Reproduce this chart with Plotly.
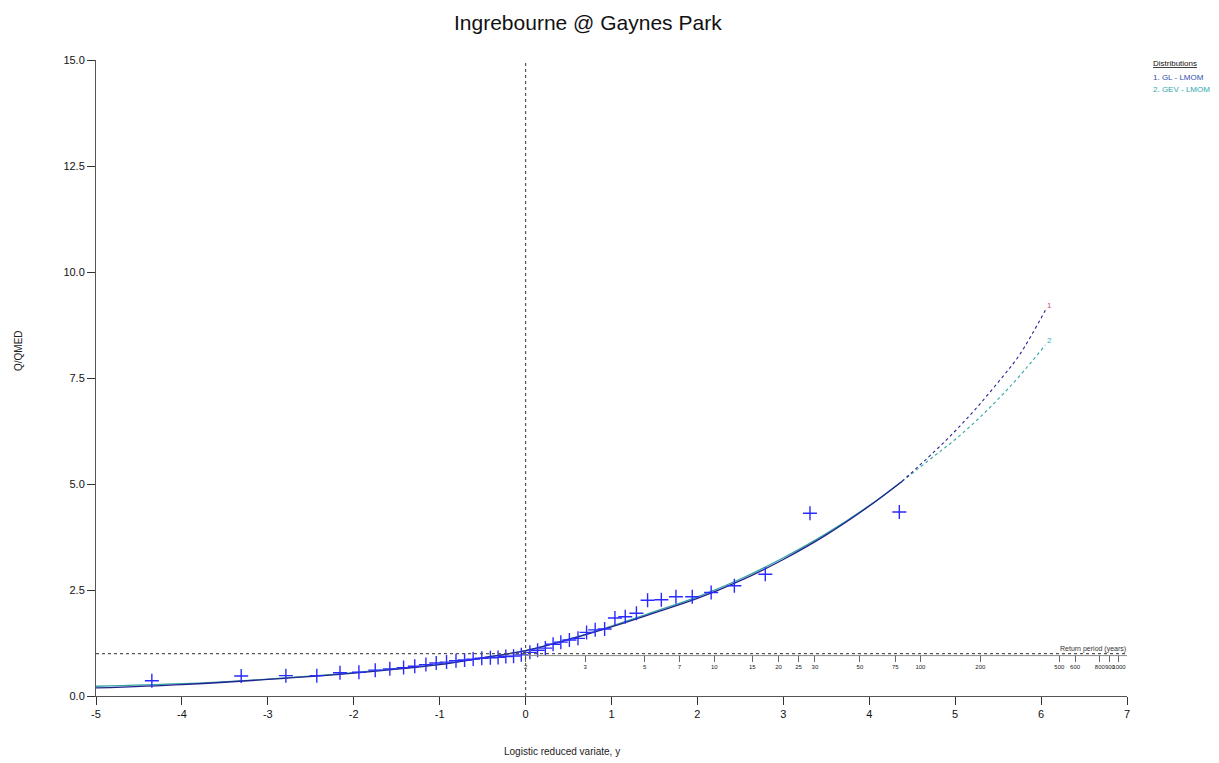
import numpy as np
import plotly.graph_objects as go

# ---------------- data ----------------
# observed annual maxima (logistic reduced variate, Q/QMED)
obs_y = [-4.35, -3.31, -2.79, -2.43, -2.16, -1.94, -1.75, -1.58, -1.42, -1.29, -1.16,
         -1.04, -0.92, -0.81, -0.71, -0.61, -0.51, -0.41, -0.32, -0.23, -0.14, -0.05,
         0.05, 0.14, 0.23, 0.32, 0.41, 0.51, 0.61, 0.71, 0.81, 0.92, 1.04, 1.16,
         1.29, 1.42, 1.58, 1.75, 1.94, 2.16, 2.43, 2.79, 3.31, 4.35]
obs_q = [0.36, 0.47, 0.48, 0.48, 0.55, 0.56, 0.61, 0.64, 0.67, 0.70, 0.74,
         0.78, 0.80, 0.83, 0.85, 0.87, 0.89, 0.90, 0.91, 0.93, 0.94, 0.97,
         1.03, 1.08, 1.13, 1.22, 1.27, 1.32, 1.36, 1.50, 1.56, 1.58, 1.84, 1.87,
         1.95, 2.26, 2.27, 2.34, 2.34, 2.44, 2.60, 2.87, 4.31, 4.34]

# fitted growth curves – solid (within sample range)
fit_y = [-5.0, -4.0, -3.0, -2.0, -1.0, -0.5, 0.0, 0.5, 1.0, 1.5, 2.0, 2.5, 3.0, 3.5, 4.0, 4.38]
gl_q = [0.19, 0.27, 0.39, 0.54, 0.74, 0.90, 1.07, 1.33, 1.63, 1.96, 2.30, 2.72, 3.22, 3.80, 4.48, 5.06]
gev_q = [0.23, 0.29, 0.40, 0.55, 0.75, 0.90, 1.07, 1.34, 1.65, 1.99, 2.34, 2.76, 3.26, 3.83, 4.49, 5.06]

# fitted growth curves – dashed (extrapolation)
ext_y = [4.38, 4.75, 5.0, 5.25, 5.5, 5.75, 6.05]
gl_ext = [5.06, 5.75, 6.25, 6.80, 7.40, 8.05, 9.10]
gev_ext = [5.06, 5.65, 6.05, 6.50, 7.00, 7.55, 8.28]

# return period axis
rp_years = [2, 3, 5, 7, 10, 15, 20, 25, 30, 50, 75, 100, 200, 500, 600, 800, 900, 1000]
rp_labels = [str(t) for t in rp_years]

y_ticks = [0, 2.5, 5, 7.5, 10, 12.5, 15]
x_ticks = [-5, -4, -3, -2, -1, 0, 1, 2, 3, 4, 5, 6, 7]

GL_COL = "#23238f"
GEV_COL = "#2fa3a3"
PT_COL = "#2a2aff"
FONT = "Liberation Sans, Arial, sans-serif"

fig = go.Figure()

# GEV (drawn first, underneath)
fig.add_trace(go.Scatter(x=fit_y, y=gev_q, mode="lines", line=dict(color=GEV_COL, width=1.3, shape="spline"),
                         hoverinfo="skip", showlegend=False))
fig.add_trace(go.Scatter(x=ext_y, y=gev_ext, mode="lines",
                         line=dict(color=GEV_COL, width=1.1, dash="dot", shape="spline"),
                         hoverinfo="skip", showlegend=False))
# GL
fig.add_trace(go.Scatter(x=fit_y, y=gl_q, mode="lines", line=dict(color=GL_COL, width=1.3, shape="spline"),
                         hoverinfo="skip", showlegend=False))
fig.add_trace(go.Scatter(x=ext_y, y=gl_ext, mode="lines",
                         line=dict(color=GL_COL, width=1.1, dash="dot", shape="spline"),
                         hoverinfo="skip", showlegend=False))

# observations
fig.add_trace(go.Scatter(x=obs_y, y=obs_q, mode="markers",
                         marker=dict(symbol="cross-thin", size=10, line=dict(color=PT_COL, width=1.4)),
                         showlegend=False))

# dummy trace to anchor the return period axis
rp_pos = np.log(np.array(rp_years, dtype=float) - 1.0)
fig.add_trace(go.Scatter(x=rp_pos, y=[1] * len(rp_pos), xaxis="x2", mode="markers",
                         marker=dict(opacity=0), hoverinfo="skip", showlegend=False))

# reference lines
fig.add_shape(type="line", xref="x", yref="y", x0=0, x1=0, y0=0, y1=15,
              line=dict(color="#555555", width=1.2, dash="dot"))
fig.add_shape(type="line", xref="x", yref="y", x0=-5, x1=7, y0=1, y1=1,
              line=dict(color="#555555", width=1.2, dash="dot"))
# return period axis line
fig.add_shape(type="line", xref="x", yref="y", x0=0, x1=7, ysizemode="pixel", yanchor=1,
              y0=-2, y1=-2, line=dict(color="#888888", width=1))

annotations = [
    dict(text="Ingrebourne @ Gaynes Park", xref="paper", yref="paper", x=0.477, y=1.0,
         yanchor="bottom", yshift=24, showarrow=False,
         font=dict(size=21, color="#111111", family=FONT)),
    dict(text="Logistic reduced variate, y", xref="paper", yref="paper", x=0.452, y=-0.088,
         yanchor="middle", showarrow=False, font=dict(size=10, color="#222222", family=FONT)),
    dict(text="Q/QMED", xref="paper", yref="paper", x=-0.0757, y=0.544, textangle=-90,
         xanchor="center", yanchor="middle", showarrow=False,
         font=dict(size=10, color="#222222", family=FONT)),
    dict(text="<u>Distributions</u>", xref="paper", yref="paper", x=1.023, y=0.994, xanchor="left",
         yanchor="middle", showarrow=False, font=dict(size=8, color="#111111", family=FONT)),
    dict(text="1. GL - LMOM", xref="paper", yref="paper", x=1.023, y=0.972, xanchor="left",
         yanchor="middle", showarrow=False, font=dict(size=8, color="#3050b0", family=FONT)),
    dict(text="2. GEV - LMOM", xref="paper", yref="paper", x=1.023, y=0.954, xanchor="left",
         yanchor="middle", showarrow=False, font=dict(size=8, color="#30a8b0", family=FONT)),
    dict(text="1", xref="x", yref="y", x=ext_y[-1], y=gl_ext[-1], xanchor="left", yanchor="bottom",
         xshift=0, yshift=-2, showarrow=False, font=dict(size=8, color="#c05070", family=FONT)),
    dict(text="2", xref="x", yref="y", x=ext_y[-1], y=gev_ext[-1], xanchor="left", yanchor="bottom",
         xshift=0, yshift=-2, showarrow=False, font=dict(size=8, color="#30b0c0", family=FONT)),
    dict(text="Return period (years)", xref="x", yref="y", x=6.6, y=1, yanchor="bottom", yshift=-1,
         showarrow=False, font=dict(size=7, color="#333333", family=FONT)),
]

fig.update_layout(
    width=1211, height=755,
    margin=dict(l=88, r=92, t=52, b=67),
    paper_bgcolor="white", plot_bgcolor="white",
    font=dict(family=FONT, size=11, color="#111111"),
    annotations=annotations,
    xaxis=dict(range=[-5, 7], tickvals=x_ticks, ticktext=[str(v) for v in x_ticks],
               showgrid=False, zeroline=False, showline=True, linecolor="#555555", linewidth=1,
               ticks="outside", ticklen=8, tickcolor="#333333", tickfont=dict(size=11)),
    xaxis2=dict(range=[-5, 7], overlaying="x", anchor="free", position=1 / 15, side="bottom",
                tickvals=list(rp_pos), ticktext=rp_labels, tickangle=0, showgrid=False, zeroline=False,
                showline=False, ticks="outside", ticklen=7, tickcolor="#666666",
                tickfont=dict(size=6, color="#222222")),
    yaxis=dict(range=[0, 15], tickvals=y_ticks, ticktext=[f"{v:.1f}" for v in y_ticks],
               showgrid=False, zeroline=False, showline=True, linecolor="#555555", linewidth=1,
               ticks="outside", ticklen=8, tickcolor="#333333", tickfont=dict(size=11)),
)

fig.write_html("out.html")
